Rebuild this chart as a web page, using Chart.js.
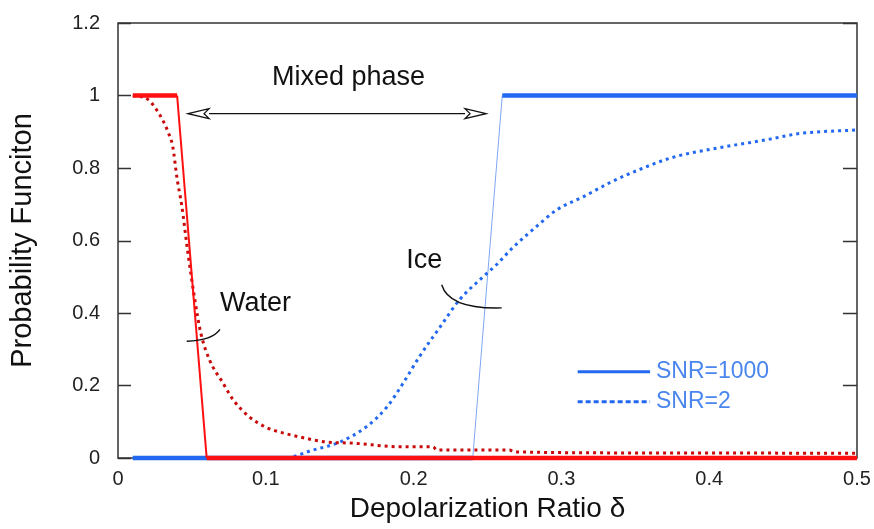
<!DOCTYPE html>
<html>
<head>
<meta charset="utf-8">
<script src="https://cdn.jsdelivr.net/npm/chart.js@4"></script>
<style>
html,body{margin:0;padding:0;background:#fff;}
#wrap{width:874px;height:529px;}
</style>
</head>
<body>
<div id="wrap"><canvas id="c" width="874" height="529"></canvas></div>
<script>
// ---- data ----
const xTickValues = [0, 0.1, 0.2, 0.3, 0.4, 0.5];
const yTickValues = [0, 0.2, 0.4, 0.6, 0.8, 1, 1.2];

const waterSnr1000X = [0.01, 0.04, 0.06, 0.5];
const waterSnr1000Y = [1, 1, 0, 0];

const iceSnr1000X = [0.01, 0.24, 0.26, 0.5];
const iceSnr1000Y = [0, 0, 1, 1];

const waterSnr2X = [0.01, 0.02, 0.025, 0.03, 0.034, 0.037, 0.04, 0.043, 0.047, 0.052, 0.056, 0.062, 0.071, 0.078, 0.089, 0.1, 0.105, 0.123, 0.141, 0.159, 0.19, 0.213, 0.216, 0.265, 0.268, 0.36, 0.5];
const waterSnr2Y = [1.0, 0.99, 0.967, 0.934, 0.898, 0.86, 0.77, 0.7, 0.575, 0.436, 0.345, 0.27, 0.207, 0.16, 0.113, 0.085, 0.077, 0.058, 0.044, 0.041, 0.031, 0.031, 0.022, 0.022, 0.017, 0.014, 0.013];

const iceSnr2X = [0.01, 0.112, 0.132, 0.15, 0.168, 0.182, 0.193, 0.204, 0.218, 0.231, 0.247, 0.256, 0.267, 0.283, 0.297, 0.315, 0.333, 0.353, 0.375, 0.407, 0.439, 0.461, 0.5];
const iceSnr2Y = [0, 0, 0.022, 0.044, 0.086, 0.141, 0.207, 0.28, 0.362, 0.436, 0.5, 0.533, 0.58, 0.638, 0.685, 0.721, 0.76, 0.796, 0.829, 0.856, 0.878, 0.895, 0.905];

const legendLabels = ['SNR=1000', 'SNR=2'];
// --------------------------------------

const pts = (xs, ys) => xs.map((v, i) => ({x: v, y: ys[i]}));
const FONT = '"Liberation Sans", Arial, Helvetica, sans-serif';
const RED = '#ff1010', DARKRED = '#c80a0a', BLUE = '#2268f0', LEGBLUE = '#4a86ee';

const flatWidth = (thick, thin) => ctx => (ctx.p0.parsed.y === ctx.p1.parsed.y ? thick : thin);

const framePlugin = {
  id: 'frame',
  beforeDatasetsDraw(chart) {
    const {ctx, chartArea: a, scales: {y}} = chart;
    ctx.save();
    ctx.strokeStyle = '#333';
    ctx.lineWidth = 1.5;
    ctx.strokeRect(a.left, a.top, a.right - a.left, a.bottom - a.top);
    ctx.beginPath();
    yTickValues.forEach(v => {
      const py = Math.round(y.getPixelForValue(v)) + 0.5;
      ctx.moveTo(a.left, py); ctx.lineTo(a.left + 13, py);
      ctx.moveTo(a.right, py); ctx.lineTo(a.right - 14, py);
    });
    ctx.stroke();
    ctx.restore();
  }
};

const annotPlugin = {
  id: 'annot',
  afterDatasetsDraw(chart) {
    const {ctx, scales: {x, y}} = chart;
    const X = v => x.getPixelForValue(v), Y = v => y.getPixelForValue(v);
    ctx.save();
    ctx.fillStyle = '#111';
    ctx.font = '27px ' + FONT;
    ctx.textBaseline = 'middle';
    ctx.textAlign = 'center';
    ctx.fillText('Mixed phase', X(0.156), Y(1.05));
    ctx.textAlign = 'left';
    ctx.fillText('Water', X(0.069), Y(0.425));
    ctx.fillText('Ice', X(0.195), Y(0.544));

    // double arrow
    const ay = Y(0.95), xl = X(0.0474), xr = X(0.249);
    const hl = 21, hw = 5;
    ctx.strokeStyle = '#111';
    ctx.lineWidth = 1.3;
    ctx.beginPath();
    ctx.moveTo(xl + hl, ay); ctx.lineTo(xr - hl, ay);
    ctx.stroke();
    ctx.fillStyle = '#fff';
    [[xl, 1], [xr, -1]].forEach(([tx, d]) => {
      ctx.beginPath();
      ctx.moveTo(tx, ay);
      ctx.lineTo(tx + d * hl, ay - hw);
      ctx.lineTo(tx + d * (hl - 5), ay);
      ctx.lineTo(tx + d * hl, ay + hw);
      ctx.closePath();
      ctx.fill();
      ctx.stroke();
    });

    // leader curves
    ctx.lineWidth = 1.4;
    ctx.beginPath();
    ctx.moveTo(X(0.0465), Y(0.322));
    ctx.quadraticCurveTo(X(0.064), Y(0.325), X(0.069), Y(0.355));
    ctx.stroke();
    ctx.beginPath();
    ctx.moveTo(X(0.219), Y(0.478));
    ctx.quadraticCurveTo(X(0.224), Y(0.41), X(0.2596), Y(0.414));
    ctx.stroke();

    // legend
    const lx0 = X(0.311), lx1 = X(0.36), tx = X(0.364);
    const ly1 = Y(0.2376), ly2 = Y(0.155);
    ctx.strokeStyle = BLUE;
    ctx.lineWidth = 3;
    ctx.beginPath(); ctx.moveTo(lx0, ly1); ctx.lineTo(lx1, ly1); ctx.stroke();
    ctx.setLineDash([5, 3]);
    ctx.beginPath(); ctx.moveTo(lx0, ly2); ctx.lineTo(lx1, ly2); ctx.stroke();
    ctx.setLineDash([]);
    ctx.fillStyle = LEGBLUE;
    ctx.font = '23px ' + FONT;
    ctx.fillText(legendLabels[0], tx, ly1);
    ctx.fillText(legendLabels[1], tx, ly2);
    ctx.restore();
  }
};

const tickCb = v => String(Math.round(v * 10) / 10);

new Chart(document.getElementById('c'), {
  type: 'line',
  data: {
    datasets: [
      {label: 'Water SNR=1000', data: pts(waterSnr1000X, waterSnr1000Y), borderColor: RED,
       borderWidth: 4, segment: {borderWidth: flatWidth(4.5, 2)}, order: 0},
      {label: 'Water SNR=2', data: pts(waterSnr2X, waterSnr2Y), borderColor: DARKRED,
       borderWidth: 3, borderDash: [3, 4], cubicInterpolationMode: 'monotone', order: 1},
      {label: 'Ice SNR=2', data: pts(iceSnr2X, iceSnr2Y), borderColor: BLUE,
       borderWidth: 3, borderDash: [3, 4], cubicInterpolationMode: 'monotone', order: 2},
      {label: 'Ice SNR=1000', data: pts(iceSnr1000X, iceSnr1000Y), borderColor: BLUE,
       borderWidth: 4, segment: {borderWidth: flatWidth(4.5, 1), borderColor: c => c.p0.parsed.y === c.p1.parsed.y ? BLUE : '#7fa6f5'}, order: 3}
    ]
  },
  options: {
    responsive: false,
    animation: false,
    elements: {point: {radius: 0, hoverRadius: 0}, line: {tension: 0, fill: false, borderCapStyle: 'butt'}},
    datasets: {line: {clip: false}},
    layout: {padding: {top: 23, right: 17, bottom: 0, left: 0}},
    plugins: {legend: {display: false}, tooltip: {enabled: false}},
    scales: {
      x: {
        type: 'linear', min: 0, max: 0.5,
        afterBuildTicks: s => { s.ticks = xTickValues.map(v => ({value: v})); },
        afterFit: s => { s.height = 71; s.paddingLeft = 0; s.paddingRight = 0; },
        grid: {display: false, drawTicks: false},
        border: {display: false},
        ticks: {callback: tickCb, color: '#222', font: {family: FONT, size: 20}, padding: 9, maxRotation: 0},
        title: {display: true, text: 'Depolarization Ratio δ', color: '#111', font: {family: FONT, size: 28}, padding: {top: 0, bottom: 3}}
      },
      y: {
        type: 'linear', min: 0, max: 1.2,
        afterBuildTicks: s => { s.ticks = yTickValues.map(v => ({value: v})); },
        afterFit: s => { s.width = 118; s.paddingTop = 0; s.paddingBottom = 0; },
        grid: {display: false, drawTicks: false},
        border: {display: false},
        ticks: {callback: tickCb, color: '#222', font: {family: FONT, size: 20}, padding: 18},
        title: {display: true, text: 'Probability Funciton', color: '#111', font: {family: FONT, size: 29}, padding: {top: 6, bottom: 0}}
      }
    }
  },
  plugins: [framePlugin, annotPlugin]
});
</script>
</body>
</html>
